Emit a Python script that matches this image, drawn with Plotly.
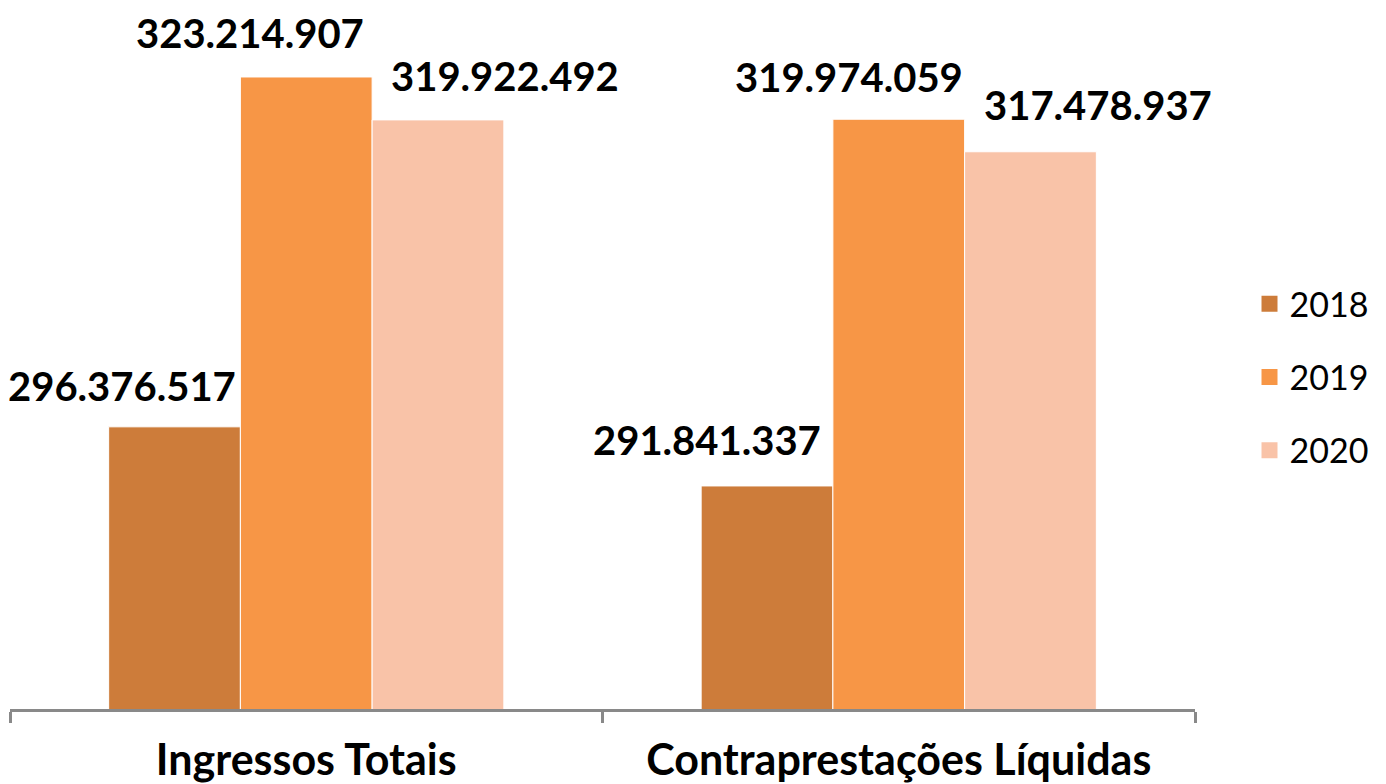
import plotly.graph_objects as go

categories = ["Ingressos Totais", "Contraprestações Líquidas"]
years = ["2018", "2019", "2020"]
values_2018 = [296376517, 291841337]
values_2019 = [323214907, 319974059]
values_2020 = [319922492, 317478937]

series = [values_2018, values_2019, values_2020]
colors = ["#CD7C3A", "#F79646", "#F9C3A8"]

# label offsets (px) relative to category centre / bar top
label_dx = [[-184, -192], [-56, -50], [199, 199]]
label_dy = [[41, 46], [44, 42], [44, 47]]

def fmt(v):
    return f"{v:,}".replace(",", ".")

fig = go.Figure()
for yr, vals, col in zip(years, series, colors):
    fig.add_trace(go.Bar(
        x=categories, y=vals, name=yr,
        marker=dict(color=col, line=dict(color="white", width=1)),
        showlegend=False,
    ))
    fig.add_trace(go.Scatter(
        x=[None], y=[None], mode="markers", name=yr,
        marker=dict(symbol="square", size=16, color=col),
        legendgroup=yr,
    ))

annotations = []
for si, vals in enumerate(series):
    for ci, cat in enumerate(categories):
        annotations.append(dict(
            x=cat, y=vals[ci], xref="x", yref="y",
            text=fmt(vals[ci]), showarrow=False,
            xanchor="center", yanchor="middle",
            xshift=label_dx[si][ci], yshift=label_dy[si][ci],
            font=dict(family="Lato", size=40, color="black", weight="bold"),
        ))

# page body adds an 8px offset; margins compensate
fig.update_layout(
    width=1386, height=784,
    margin=dict(l=2, r=199, t=1, b=83),
    paper_bgcolor="white", plot_bgcolor="white",
    barmode="group", bargap=0.333, bargroupgap=0,
    annotations=annotations,
    legend=dict(
        x=1.046, xanchor="left", y=0.474, yanchor="middle",
        font=dict(family="Lato", size=34, color="black"),
        tracegroupgap=26, itemsizing="trace",
    ),
    font=dict(family="Lato"),
)
fig.update_xaxes(
    range=[-0.5, 1.5], showline=True, linecolor="#898989", linewidth=2.5,
    ticks="outside", tickson="boundaries", ticklen=11, tickwidth=2.5, tickcolor="#898989",
    tickfont=dict(family="Lato", size=43, color="black", weight="bold"),
    ticklabelstandoff=12,
    showgrid=False, zeroline=False,
)
fig.update_yaxes(
    range=[274.73e6, 328.43e6], visible=False, showgrid=False, zeroline=False,
)

fig.write_html("out.html")
